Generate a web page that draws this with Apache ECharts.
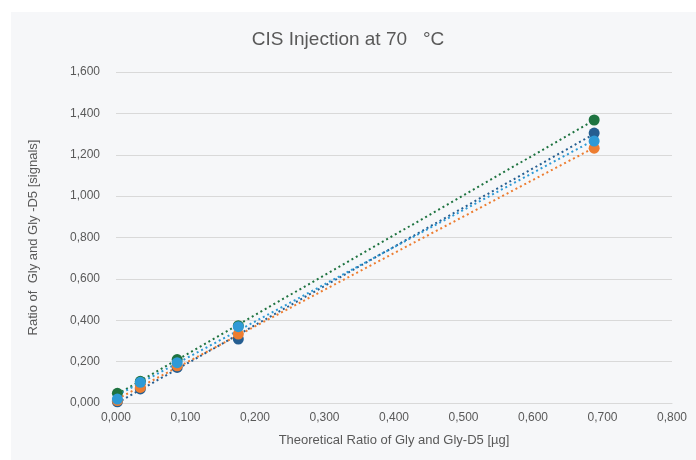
<!DOCTYPE html>
<html>
<head>
<meta charset="utf-8">
<script src="https://cdn.jsdelivr.net/npm/echarts@6/dist/echarts.min.js"></script>
<style>
  html, body { margin: 0; padding: 0; background: #fff; }
  #main { width: 696px; height: 460px; }
</style>
</head>
<body>
<div id="main"></div>
<script>
// theoretical ratios (x) shared by all runs
var xValues = [0.002, 0.035, 0.088, 0.176, 0.688];

// measured signal ratios for each run
var seriesNames = ['Run 1', 'Run 2', 'Run 3', 'Run 4'];
var run1 = [0.006, 0.068, 0.172, 0.309, 1.305]; // dark blue
var run2 = [0.012, 0.075, 0.180, 0.333, 1.232]; // orange
var run3 = [0.047, 0.105, 0.210, 0.374, 1.368]; // green
var run4 = [0.019, 0.100, 0.195, 0.369, 1.266]; // light blue
var seriesColors = ['#255e91', '#ed7d31', '#1e7340', '#2e9ad6'];

var FONT = "'Liberation Sans Narrow', 'Liberation Sans', Arial, sans-serif";

function fmt(v) {
  return v.toFixed(3).replace('.', ',');
}

// least squares fit, same as an Excel linear trendline
function trend(xs, ys) {
  var n = xs.length, sx = 0, sy = 0, sxx = 0, sxy = 0;
  for (var i = 0; i < n; i++) {
    sx += xs[i]; sy += ys[i]; sxx += xs[i] * xs[i]; sxy += xs[i] * ys[i];
  }
  var b = (n * sxy - sx * sy) / (n * sxx - sx * sx);
  var a = (sy - b * sx) / n;
  var x0 = xs[0], x1 = xs[n - 1];
  return [[x0, a + b * x0], [x1, a + b * x1]];
}

var runs = [run1, run2, run3, run4];
var series = [];
runs.forEach(function (ys, i) {
  series.push({
    name: seriesNames[i] + ' trend',
    type: 'line',
    data: trend(xValues, ys),
    symbol: 'none',
    silent: true,
    z: 1,
    lineStyle: { color: seriesColors[i], width: 2, type: [2, 3] }
  });
});
[0, 1, 2, 3].forEach(function (i) {
  series.push({
    name: seriesNames[i],
    type: 'scatter',
    data: xValues.map(function (x, k) { return [x, runs[i][k]]; }),
    symbolSize: 11,
    z: 3,
    itemStyle: { color: seriesColors[i], opacity: 1 }
  });
});

var myChart = echarts.init(document.getElementById('main'));
myChart.setOption({
  backgroundColor: '#ffffff',
  animation: false,
  graphic: [{
    type: 'rect',
    left: 11, top: 12,
    shape: { width: 690, height: 452 },
    style: { fill: '#f6f7f9' },
    z: -10, silent: true
  }],
  title: {
    text: 'CIS Injection at 70   °C',
    left: 'center',
    top: 25,
    textStyle: { color: '#595959', fontSize: 19, fontWeight: 'normal', fontFamily: FONT }
  },
  grid: { left: 116, right: 24, top: 72, bottom: 57 },
  xAxis: {
    type: 'value',
    min: 0, max: 0.8, interval: 0.1,
    name: 'Theoretical Ratio of Gly and Gly-D5 [µg]',
    nameLocation: 'middle',
    nameGap: 31,
    nameTextStyle: { color: '#595959', fontSize: 13, fontFamily: FONT },
    axisLine: { show: true, lineStyle: { color: '#d9d9d9' } },
    axisTick: { show: false },
    splitLine: { show: false },
    axisLabel: { color: '#595959', fontSize: 12, fontFamily: FONT, margin: 9, formatter: fmt }
  },
  yAxis: {
    type: 'value',
    min: 0, max: 1.6, interval: 0.2,
    name: 'Ratio of  Gly and Gly -D5 [signals]',
    nameLocation: 'middle',
    nameGap: 76,
    nameTextStyle: { color: '#595959', fontSize: 13, fontFamily: FONT },
    axisLine: { show: false },
    axisTick: { show: false },
    splitLine: { lineStyle: { color: '#d9d9d9' } },
    axisLabel: { color: '#595959', fontSize: 12, fontFamily: FONT, margin: 16, formatter: fmt }
  },
  series: series
});
</script>
</body>
</html>
